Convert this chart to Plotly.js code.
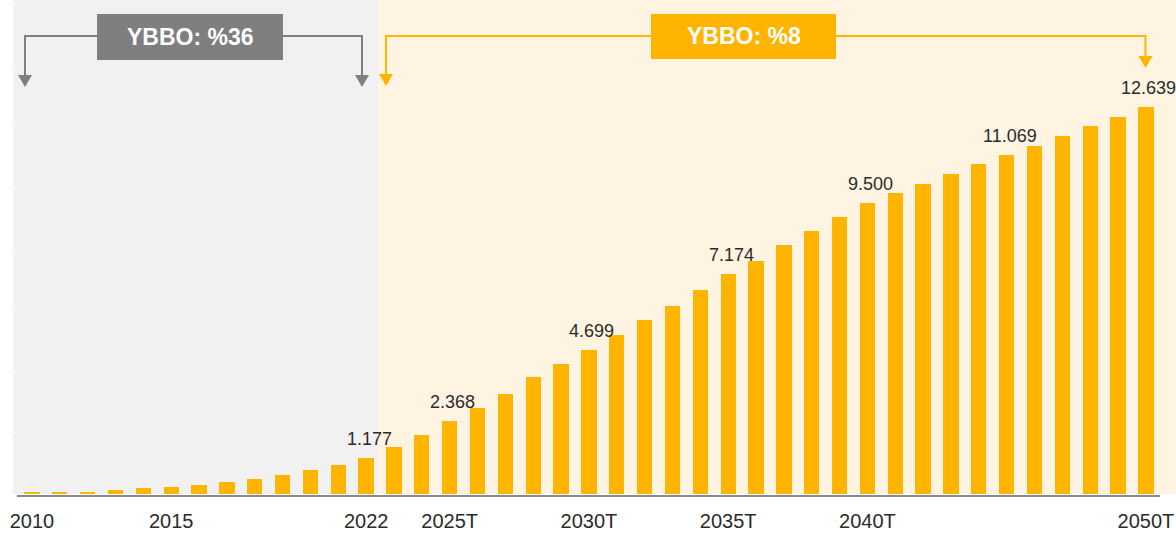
<!DOCTYPE html>
<html>
<head>
<meta charset="utf-8">
<script src="https://cdn.plot.ly/plotly-3.0.1.min.js"></script>
<style>
  html, body { margin: 0; padding: 0; background: #ffffff; }
  #chart { width: 1176px; height: 537px; }
</style>
</head>
<body>
<div id="chart"></div>
<script>
// Yearly values (2010 - 2050, T = forecast)
const years = [2010, 2011, 2012, 2013, 2014, 2015, 2016, 2017, 2018, 2019,
  2020, 2021, 2022, 2023, 2024, 2025, 2026, 2027, 2028, 2029,
  2030, 2031, 2032, 2033, 2034, 2035, 2036, 2037, 2038, 2039,
  2040, 2041, 2042, 2043, 2044, 2045, 2046, 2047, 2048, 2049, 2050];
const values = [50, 50, 70, 130, 185, 215, 305, 380, 480, 610,
  775, 935, 1177, 1536, 1938, 2368, 2810, 3267, 3822, 4234,
  4699, 5181, 5693, 6151, 6650, 7174, 7610, 8120, 8590, 9034,
  9500, 9818, 10134, 10461, 10778, 11069, 11375, 11679, 12006, 12313, 12639];

const tickYears = [2010, 2015, 2022, 2025, 2030, 2035, 2040, 2050];
const tickText = ['2010', '2015', '2022', '2025T', '2030T', '2035T', '2040T', '2050T'];

// years that get a value label above the bar
const labelYears = [2022, 2025, 2030, 2035, 2040, 2045, 2050];

const historicLabel = 'YBBO: %36';
const forecastLabel = 'YBBO: %8';

const barColor = '#FFB500';
const greyColor = '#7F7F7F';
const FONT = '"Liberation Sans", Arial, sans-serif';

// layout helpers (pixel -> paper)
const L = 13, PW = 1163, PH = 494;
const xp = px => (px - L) / PW;
const yp = py => 1 - py / PH;

// 1.177 style thousands separator
const fmt = v => String(v).replace(/\B(?=(\d{3})+(?!\d))/g, '.');

const bars = {
  x: years,
  y: values,
  type: 'bar',
  width: 0.55,
  marker: { color: barColor, line: { width: 0 } },
  hoverinfo: 'skip'
};

const valueNotes = labelYears.map(yr => ({
  x: yr,
  y: values[years.indexOf(yr)],
  xref: 'x', yref: 'y',
  text: fmt(values[years.indexOf(yr)]),
  showarrow: false,
  xanchor: 'center',
  yanchor: 'middle',
  yshift: 19,
  xshift: 3,
  font: { family: FONT, size: 18, color: '#2b2b2b' }
}));

// bracket with arrowheads, all in pixels
function bracket(x1, x2, tip1, tip2, boxL, boxR, color) {
  const yl = 36;
  const hw = 7, hh = 12;
  const lines = {
    type: 'path', xref: 'paper', yref: 'paper', layer: 'above',
    path: `M${xp(x1)},${yp(tip1 - hh)} L${xp(x1)},${yp(yl)} L${xp(boxL)},${yp(yl)} ` +
          `M${xp(boxR)},${yp(yl)} L${xp(x2)},${yp(yl)} L${xp(x2)},${yp(tip2 - hh)}`,
    line: { color: color, width: 2 }
  };
  const head = (x, tip) => ({
    type: 'path', xref: 'paper', yref: 'paper', layer: 'above',
    path: `M${xp(x - hw)},${yp(tip - hh)} L${xp(x + hw)},${yp(tip - hh)} L${xp(x)},${yp(tip)} Z`,
    fillcolor: color, line: { width: 0 }
  });
  return [lines, head(x1, tip1), head(x2, tip2)];
}

const shapes = [
  // shaded periods
  { type: 'rect', xref: 'x', yref: 'paper', x0: 2009.32, x1: 2022.43, y0: 0, y1: 1,
    fillcolor: '#F1F1F1', line: { width: 0 }, layer: 'below' },
  { type: 'rect', xref: 'x', yref: 'paper', x0: 2022.43, x1: 2051.08, y0: 0, y1: 1,
    fillcolor: '#FEF4E1', line: { width: 0 }, layer: 'below' },
  // baseline
  { type: 'line', xref: 'x', yref: 'paper', x0: 2009.46, x1: 2050.5, y0: yp(496), y1: yp(496),
    line: { color: '#8a8a8a', width: 2 }, layer: 'above' },
  // label boxes
  { type: 'rect', xref: 'paper', yref: 'paper', x0: xp(97), x1: xp(283), y0: yp(60), y1: yp(14),
    fillcolor: greyColor, line: { width: 0 }, layer: 'above' },
  { type: 'rect', xref: 'paper', yref: 'paper', x0: xp(651), x1: xp(836), y0: yp(59), y1: yp(14),
    fillcolor: barColor, line: { width: 0 }, layer: 'above' },
  ...bracket(25, 362, 87, 87, 97, 283, greyColor),
  ...bracket(386, 1145.5, 86, 68, 651, 836, barColor)
];

const boxNotes = [
  { xref: 'paper', yref: 'paper', x: xp(190), y: yp(37), text: '<b>' + historicLabel + '</b>',
    xanchor: 'center', yanchor: 'middle',
    showarrow: false, font: { family: FONT, size: 23, color: '#ffffff' } },
  { xref: 'paper', yref: 'paper', x: xp(743.5), y: yp(36.5), text: '<b>' + forecastLabel + '</b>',
    xanchor: 'center', yanchor: 'middle',
    showarrow: false, font: { family: FONT, size: 23, color: '#ffffff' } }
];

const layout = {
  width: 1176,
  height: 537,
  margin: { l: L, r: 0, t: 0, b: 537 - PH, pad: 0 },
  paper_bgcolor: '#ffffff',
  plot_bgcolor: 'rgba(0,0,0,0)',
  showlegend: false,
  bargap: 0,
  xaxis: {
    range: [2009.32, 2051.08],
    tickmode: 'array',
    tickvals: tickYears,
    ticktext: tickText,
    ticks: 'outside',
    ticklen: 9,
    tickcolor: 'rgba(0,0,0,0)',
    showgrid: false,
    zeroline: false,
    showline: false,
    tickfont: { family: FONT, size: 20, color: '#2b2b2b' }
  },
  yaxis: {
    range: [0, PH * 32.655],
    dtick: 2000,
    ticks: 'inside',
    ticklen: 3,
    tickcolor: '#ffffff',
    showticklabels: false,
    showgrid: false,
    zeroline: false,
    showline: false
  },
  shapes: shapes,
  annotations: [...valueNotes, ...boxNotes]
};

Plotly.newPlot('chart', [bars], layout, { staticPlot: true, displayModeBar: false });
</script>
</body>
</html>
